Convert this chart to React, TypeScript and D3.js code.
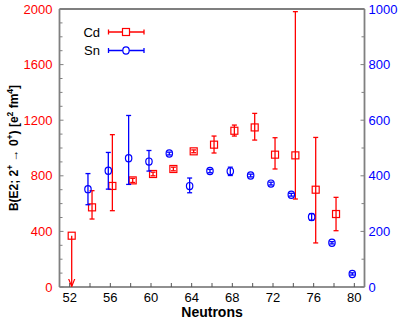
import * as d3 from "d3";
import React from "react";

// Cd (left axis), neutron number, B(E2) and error limits
const cdN = [52, 54, 56, 58, 60, 62, 64, 66, 68, 70, 72, 74, 76, 78];
const cdVal = [369, 573, 727, 767, 813, 849, 976, 1024, 1124, 1148, 952, 947, 700, 525];
const cdLo = [0, 489, 549, 752, 800, 836, 966, 964, 1086, 1057, 849, 633, 317, 405];
const cdHi = [369, 693, 1096, 782, 826, 862, 986, 1086, 1165, 1249, 1074, 1981, 1076, 645];
const cdUpperLimit = [true, false, false, false, false, false, false, false, false, false, false, false, false, false];

// Sn (right axis)
const snN = [54, 56, 58, 60, 62, 64, 66, 68, 70, 72, 74, 76, 78, 80];
const snVal = [352, 418, 463, 451, 480, 363, 417, 416, 401, 372, 332, 252, 159, 47];
const snLo = [296, 352, 369, 417, 475, 339, 411, 401, 396, 367, 327, 240, 155, 43];
const snHi = [408, 484, 617, 491, 485, 392, 423, 431, 406, 377, 337, 264, 163, 51];

const xTicks = [52, 56, 60, 64, 68, 72, 76, 80];
const leftTicks = [0, 400, 800, 1200, 1600, 2000];
const rightTicks = [0, 200, 400, 600, 800, 1000];

const W = 399;
const H = 327;
const margin = { top: 9, right: 34.5, bottom: 40, left: 59.5 };
const RED = "#ff0000";
const BLUE = "#0000ff";
const font = "'Liberation Sans', Arial, sans-serif";

export default function App() {
   const x = d3.scaleLinear().domain([51, 81]).range([margin.left, W - margin.right]);
   const yL = d3.scaleLinear().domain([0, 2000]).range([H - margin.bottom, margin.top]);
   const yR = d3.scaleLinear().domain([0, 1000]).range([H - margin.bottom, margin.top]);
   const x0 = margin.left;
   const x1 = W - margin.right;
   const y0 = H - margin.bottom;
   const y1 = margin.top;
   const cap = 2.5;
   const off = 0.2;

   const leftMinor = d3.range(0, 2001, 100);
   const rightMinor = d3.range(0, 1001, 100);
   const xMinor = d3.range(52, 81, 2);

   return (
      <svg width={W} height={H} style={{ position: "absolute", left: 0, top: 0, background: "#fff" }}>
         <defs>
            <marker id="arr" viewBox="0 0 10 10" refX="10" refY="5" markerWidth="6" markerHeight="8" orient="auto">
               <path d="M0,1 L10,5 L0,9" fill="none" stroke={RED} strokeWidth="1.5" />
            </marker>
         </defs>
         {/* frame */}
         <line x1={x0} x2={x1} y1={y1} y2={y1} stroke="#000" strokeWidth={1.2} />
         <line x1={x0} x2={x1} y1={y0} y2={y0} stroke="#222" strokeWidth={1.2} />
         <line x1={x0} x2={x0} y1={y1} y2={y0} stroke="#808080" strokeWidth={1.8} />
         <line x1={x1} x2={x1} y1={y1} y2={y0} stroke="#808080" strokeWidth={1.8} />

         {/* ticks */}
         {leftMinor.map((v) => (
            <line key={"lm" + v} x1={x0} x2={x0 + (v % 400 === 0 ? 4 : 3)} y1={yL(v)} y2={yL(v)} stroke="#808080" strokeWidth={1} />
         ))}
         {rightMinor.map((v) => (
            <line key={"rm" + v} x1={x1} x2={x1 - (v % 200 === 0 ? 4 : 3)} y1={yR(v)} y2={yR(v)} stroke="#808080" strokeWidth={1} />
         ))}
         {xMinor.map((v) => (
            <line key={"xm" + v} x1={x(v)} x2={x(v)} y1={y0} y2={y0 - 4} stroke="#555" strokeWidth={1} />
         ))}

         {/* tick labels */}
         {leftTicks.map((v) => (
            <text key={"lt" + v} x={x0 - 7} y={yL(v) + 4.5} textAnchor="end" fontFamily={font} fontSize={13} fill={RED}>
               {v}
            </text>
         ))}
         {rightTicks.map((v) => (
            <text key={"rt" + v} x={x1 + 4} y={yR(v) + 4.5} textAnchor="start" fontFamily={font} fontSize={13} fill={BLUE}>
               {v}
            </text>
         ))}
         {xTicks.map((v) => (
            <text key={"xt" + v} x={x(v)} y={y0 + 15} textAnchor="middle" fontFamily={font} fontSize={13} fill="#000">
               {v}
            </text>
         ))}

         {/* axis titles */}
         <text x={(x0 + x1) / 2} y={H - 10.5} textAnchor="middle" fontFamily={font} fontSize={14} fontWeight="bold">
            Neutrons
         </text>
         <text
            transform={`translate(17.5,${(y0 + y1) / 2}) rotate(-90)`}
            textAnchor="middle"
            fontFamily={font}
            fontSize={12}
            fontWeight="bold"
         >
            B(E2; 2<tspan dy={-4.5} fontSize={8.5}>+</tspan>
            <tspan dy={4.5}> → 0</tspan>
            <tspan dy={-4.5} fontSize={8.5}>+</tspan>
            <tspan dy={4.5}>) [e</tspan>
            <tspan dy={-4.5} fontSize={8.5}>2</tspan>
            <tspan dy={4.5}> fm</tspan>
            <tspan dy={-4.5} fontSize={8.5}>4</tspan>
            <tspan dy={4.5}>]</tspan>
         </text>

         {/* Cd series */}
         {cdN.map((n, i) => {
            const cx = x(n + off);
            const cy = yL(cdVal[i]);
            if (cdUpperLimit[i]) {
               return (
                  <g key={"cd" + n}>
                     <line x1={cx} x2={cx} y1={cy} y2={yL(cdLo[i]) - 0.5} stroke={RED} strokeWidth={1.3} markerEnd="url(#arr)" />
                     <rect x={cx - 3.5} y={cy - 3.5} width={7} height={7} fill="none" stroke={RED} strokeWidth={1.2} />
                  </g>
               );
            }
            return (
               <g key={"cd" + n}>
                  <line x1={cx} x2={cx} y1={yL(cdLo[i])} y2={yL(cdHi[i])} stroke={RED} strokeWidth={1.3} />
                  <line x1={cx - cap} x2={cx + cap} y1={yL(cdLo[i])} y2={yL(cdLo[i])} stroke={RED} strokeWidth={1.3} />
                  <line x1={cx - cap} x2={cx + cap} y1={yL(cdHi[i])} y2={yL(cdHi[i])} stroke={RED} strokeWidth={1.3} />
                  <rect x={cx - 3.5} y={cy - 3.5} width={7} height={7} fill="none" stroke={RED} strokeWidth={1.2} />
               </g>
            );
         })}

         {/* Sn series */}
         {snN.map((n, i) => {
            const cx = x(n - off);
            const cy = yR(snVal[i]);
            return (
               <g key={"sn" + n}>
                  <line x1={cx} x2={cx} y1={yR(snLo[i])} y2={yR(snHi[i])} stroke={BLUE} strokeWidth={1.3} />
                  <line x1={cx - cap} x2={cx + cap} y1={yR(snLo[i])} y2={yR(snLo[i])} stroke={BLUE} strokeWidth={1.3} />
                  <line x1={cx - cap} x2={cx + cap} y1={yR(snHi[i])} y2={yR(snHi[i])} stroke={BLUE} strokeWidth={1.3} />
                  <ellipse cx={cx} cy={cy} rx={3.2} ry={3.6} fill="none" stroke={BLUE} strokeWidth={1.2} />
               </g>
            );
         })}

         {/* legend */}
         <g fontFamily={font} fontSize={13}>
            <text x={100} y={36.5} textAnchor="end">Cd</text>
            <line x1={108.5} x2={144} y1={32} y2={32} stroke={RED} strokeWidth={1.3} />
            <line x1={108.5} x2={108.5} y1={29.5} y2={34.5} stroke={RED} strokeWidth={1.3} />
            <line x1={144} x2={144} y1={29.5} y2={34.5} stroke={RED} strokeWidth={1.3} />
            <rect x={122.5} y={28.5} width={7} height={7} fill="#fff" stroke={RED} strokeWidth={1.2} />

            <text x={100} y={55} textAnchor="end">Sn</text>
            <line x1={108.5} x2={144} y1={50.5} y2={50.5} stroke={BLUE} strokeWidth={1.3} />
            <line x1={108.5} x2={108.5} y1={48} y2={53} stroke={BLUE} strokeWidth={1.3} />
            <line x1={144} x2={144} y1={48} y2={53} stroke={BLUE} strokeWidth={1.3} />
            <ellipse cx={126} cy={50.5} rx={3.2} ry={3.6} fill="#fff" stroke={BLUE} strokeWidth={1.2} />
         </g>
      </svg>
   );
}
